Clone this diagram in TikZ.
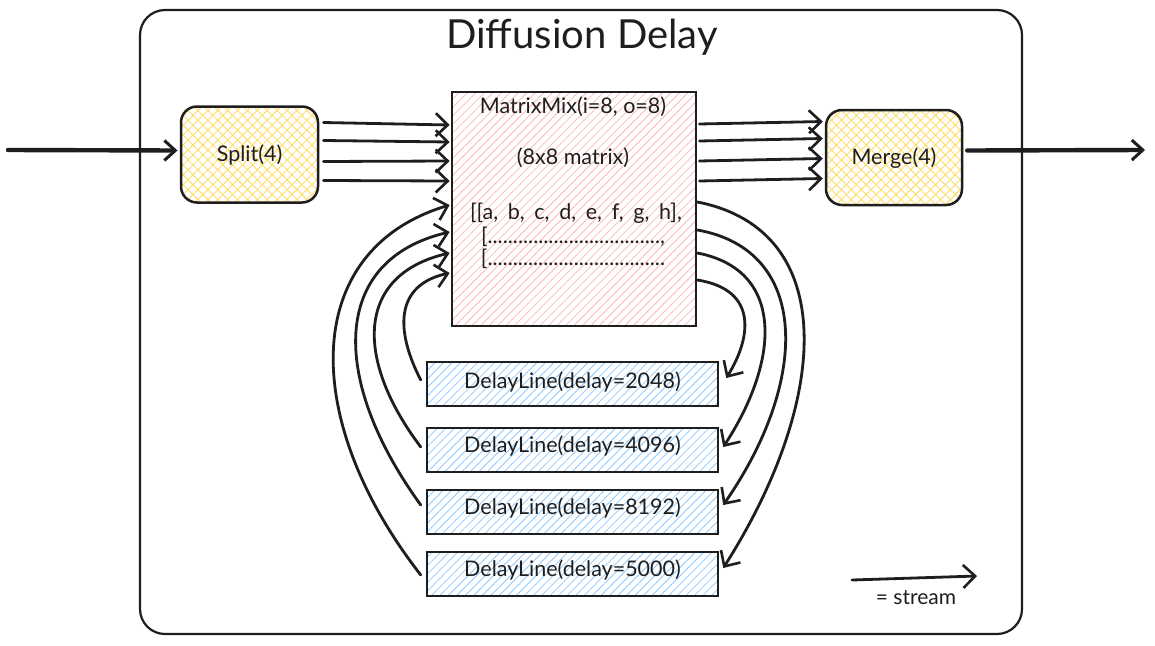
\documentclass[tikz,border=0pt]{standalone}
\usepackage{fontspec}
\setmainfont{Lato}
\usetikzlibrary{arrows.meta,patterns.meta,calc}
\definecolor{ink}{HTML}{1E1E1E}
\definecolor{yel}{HTML}{FFDD66}
\definecolor{pnk}{HTML}{FFB8B8}
\definecolor{blu}{HTML}{8FCBFF}
\tikzset{
  lbl/.style={font=\fontsize{21.5}{24}\selectfont, text=ink},
  roundbox/.style={draw=ink, line width=2.5pt, rounded corners=16pt,
    pattern={Hatch[angle=45,distance=7pt,line width=0.9pt]}, pattern color=yel,
    minimum width=137pt, minimum height=96pt, inner sep=0pt},
  mixbox/.style={draw=ink, line width=2.5pt,
    pattern={Lines[angle=45,distance=6pt,line width=0.8pt]}, pattern color=pnk,
    minimum width=244pt, minimum height=234pt, inner sep=0pt},
  delaybox/.style={draw=ink, line width=2.5pt,
    pattern={Lines[angle=45,distance=6pt,line width=0.8pt]}, pattern color=blu,
    minimum width=291pt, minimum height=44pt, inner sep=0pt},
  stream/.style={draw=ink, line width=2.8pt, line cap=round,
    -{Straight Barb[length=12pt,width=23pt,line width=2.6pt]}},
  bigstream/.style={draw=ink, line width=4.4pt, line cap=round,
    -{Straight Barb[length=11pt,width=20pt,line width=3pt]}},
}
\begin{document}
\begin{tikzpicture}[x=1pt,y=-1pt]
\fill[white] (0,0) rectangle (1155,645);
\useasboundingbox (0,0) rectangle (1155,645);
% frame
\node[draw=ink, line width=2.2pt, rounded corners=25pt, minimum width=882pt, minimum height=624pt, inner sep=0pt] (frame) at (581,322) {};
\node[font=\fontsize{40}{44}\selectfont, text=ink] (title) at (582,37) {Diffusion Delay};
% main nodes
\node[roundbox] (split) at (249.5,154.5) {};
\node[lbl] (splitt) at (249.5,155) {Split(4)};
\node[roundbox, minimum width=136pt, minimum height=95pt] (merge) at (894,157.5) {};
\node[lbl] (merget) at (894,158) {Merge(4)};
\node[mixbox] (mix) at (574,209) {};
\node[lbl] (mt1) at (573,107) {MatrixMix(i=8, o=8)};
\node[lbl] (mt2) at (573,158) {(8x8 matrix)};
\node[lbl] (mt3) at (576,213) {\spaceskip=0.45em [[a, b, c, d, e, f, g, h],};
\node[lbl] (mt4) at (573,237) {[..................................,};
\node[lbl] (mt5) at (573,259) {[...................................};
\node[delaybox] (d1) at (572.5,384) {};
\node[lbl] (d1t) at (572.5,382) {DelayLine(delay=2048)};
\node[delaybox] (d2) at (572.5,450) {};
\node[lbl] (d2t) at (572.5,446) {DelayLine(delay=4096)};
\node[delaybox] (d3) at (572.5,512) {};
\node[lbl] (d3t) at (572.5,508) {DelayLine(delay=8192)};
\node[delaybox] (d4) at (572.5,574) {};
\node[lbl] (d4t) at (572.5,570) {DelayLine(delay=5000)};
% input / output
\coordinate (in) at (8,150);
\coordinate (out) at (1145,150);
\draw[bigstream] (in) -- ($(split.west)+(-3,-4)$);
\draw[bigstream] ($(merge.east)+(4,-7)$) -- (out);
% split -> mix
\foreach \a/\b in {-32/-84,-14/-67,7/-48,26/-28}{
  \draw[stream] ($(split.east)+(5,\a)$) -- ($(mix.west)+(-2,\b)$);
}
% mix -> merge
\foreach \a/\b in {-85/-36,-68/-19,-48/1,-28/21}{
  \draw[stream] ($(mix.east)+(3,\a)$) -- ($(merge.west)+(-2,\b)$);
}
% right loops mix -> delays
\draw[stream] ($(mix.east)+(1,-7)$) .. controls (840,230) and (830,400) .. ($(d4.east)+(4,-6)$);
\draw[stream] ($(mix.east)+(1,21)$) .. controls (810,250) and (810,380) .. ($(d3.east)+(4,-7)$);
\draw[stream] ($(mix.east)+(1,44)$) .. controls (785,270) and (780,360) .. ($(d2.east)+(4,-3)$);
\draw[stream] ($(mix.east)+(1,71)$) .. controls (760,290) and (750,340) .. ($(d1.east)+(7,-6)$);
% left loops delays -> mix
\draw[stream] ($(d4.west)+(-5,1)$) .. controls (300,420) and (300,250) .. ($(mix.west)+(-2,-4)$);
\draw[stream] ($(d3.west)+(-5,-7)$) .. controls (330,380) and (330,260) .. ($(mix.west)+(-2,23)$);
\draw[stream] ($(d2.west)+(-5,-3)$) .. controls (355,360) and (355,275) .. ($(mix.west)+(-2,44)$);
\draw[stream] ($(d1.west)+(-5,-4)$) .. controls (395,330) and (395,285) .. ($(mix.west)+(-2,64)$);
% legend
\coordinate (lg1) at (852,580);
\coordinate (lg2) at (977,576);
\draw[stream] (lg1) -- (lg2);
\node[font=\fontsize{21}{24}\selectfont, text=ink] (lgt) at (916,598) {= stream};
\end{tikzpicture}
\end{document}
